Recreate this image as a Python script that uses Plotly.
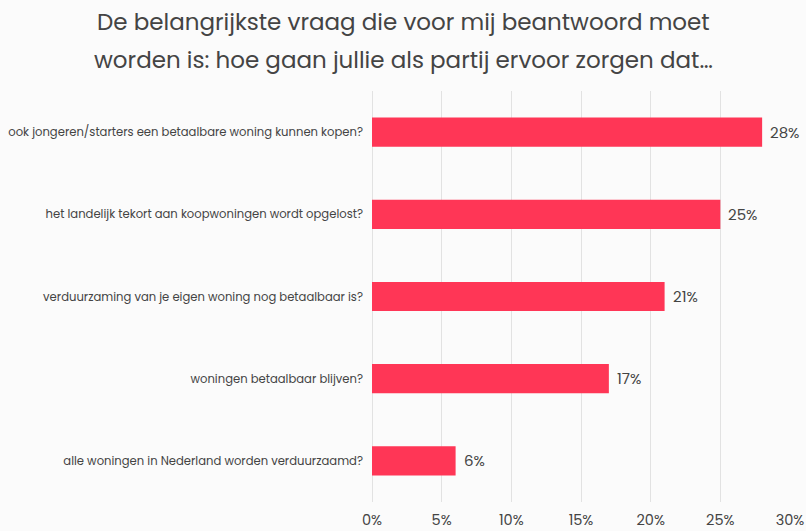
import plotly.graph_objects as go

categories = [
    "ook jongeren/starters een betaalbare woning kunnen kopen?",
    "het landelijk tekort aan koopwoningen wordt opgelost?",
    "verduurzaming van je eigen woning nog betaalbaar is?",
    "woningen betaalbaar blijven?",
    "alle woningen in Nederland worden verduurzaamd?",
]
values = [28, 25, 21, 17, 6]
tick_vals = [0, 5, 10, 15, 20, 25, 30]
tick_text = ["0%", "5%", "10%", "15%", "20%", "25%", "30%"]
title_lines = [
    "De belangrijkste vraag die voor mij beantwoord moet",
    "worden is: hoe gaan jullie als partij ervoor zorgen dat…",
]

FONT = "Poppins, Open Sans, sans-serif"
TXT = "#444444"
W, H = 806, 531
ML, MR, MT, MB = 372, 16, 91, 29

fig = go.Figure(go.Bar(
    x=values, y=categories, orientation="h",
    marker=dict(color="#ff3656", line=dict(width=0)),
    hoverinfo="skip",
))

annotations = []
for c, v in zip(categories, values):
    annotations.append(dict(
        x=v, y=c, xref="x", yref="y", text=f"{v}%", showarrow=False,
        xanchor="left", xshift=6, font=dict(size=15, color=TXT, family=FONT),
    ))
for i, line in enumerate(title_lines):
    ypix = H - 22 - 38 * i
    annotations.append(dict(
        x=(403 - ML) / (W - ML - MR), xref="paper",
        y=(ypix - MB) / (H - MT - MB), yref="paper",
        text=line, showarrow=False,
        xanchor="center", yanchor="middle", font=dict(size=23, color=TXT, family=FONT),
    ))

fig.update_layout(
    width=W, height=H,
    margin=dict(l=ML, r=MR, t=MT, b=MB, autoexpand=False),
    paper_bgcolor="#fbfbfb", plot_bgcolor="#fbfbfb",
    bargap=0.645,
    showlegend=False,
    annotations=annotations,
    xaxis=dict(
        range=[0, 30], tickvals=tick_vals, ticktext=tick_text,
        showgrid=True, gridcolor="#e2e2e2", gridwidth=1,
        zeroline=True, zerolinecolor="#e2e2e2", zerolinewidth=1,
        ticks="", tickfont=dict(size=14.5, color=TXT, family=FONT),
        ticklabelstandoff=7, automargin=False,
    ),
    yaxis=dict(
        categoryorder="array", categoryarray=categories[::-1],
        showgrid=False, ticks="", ticklabelstandoff=8, automargin=False,
        tickfont=dict(size=11.6, color=TXT, family=FONT),
    ),
)
fig.write_html("out.html")
